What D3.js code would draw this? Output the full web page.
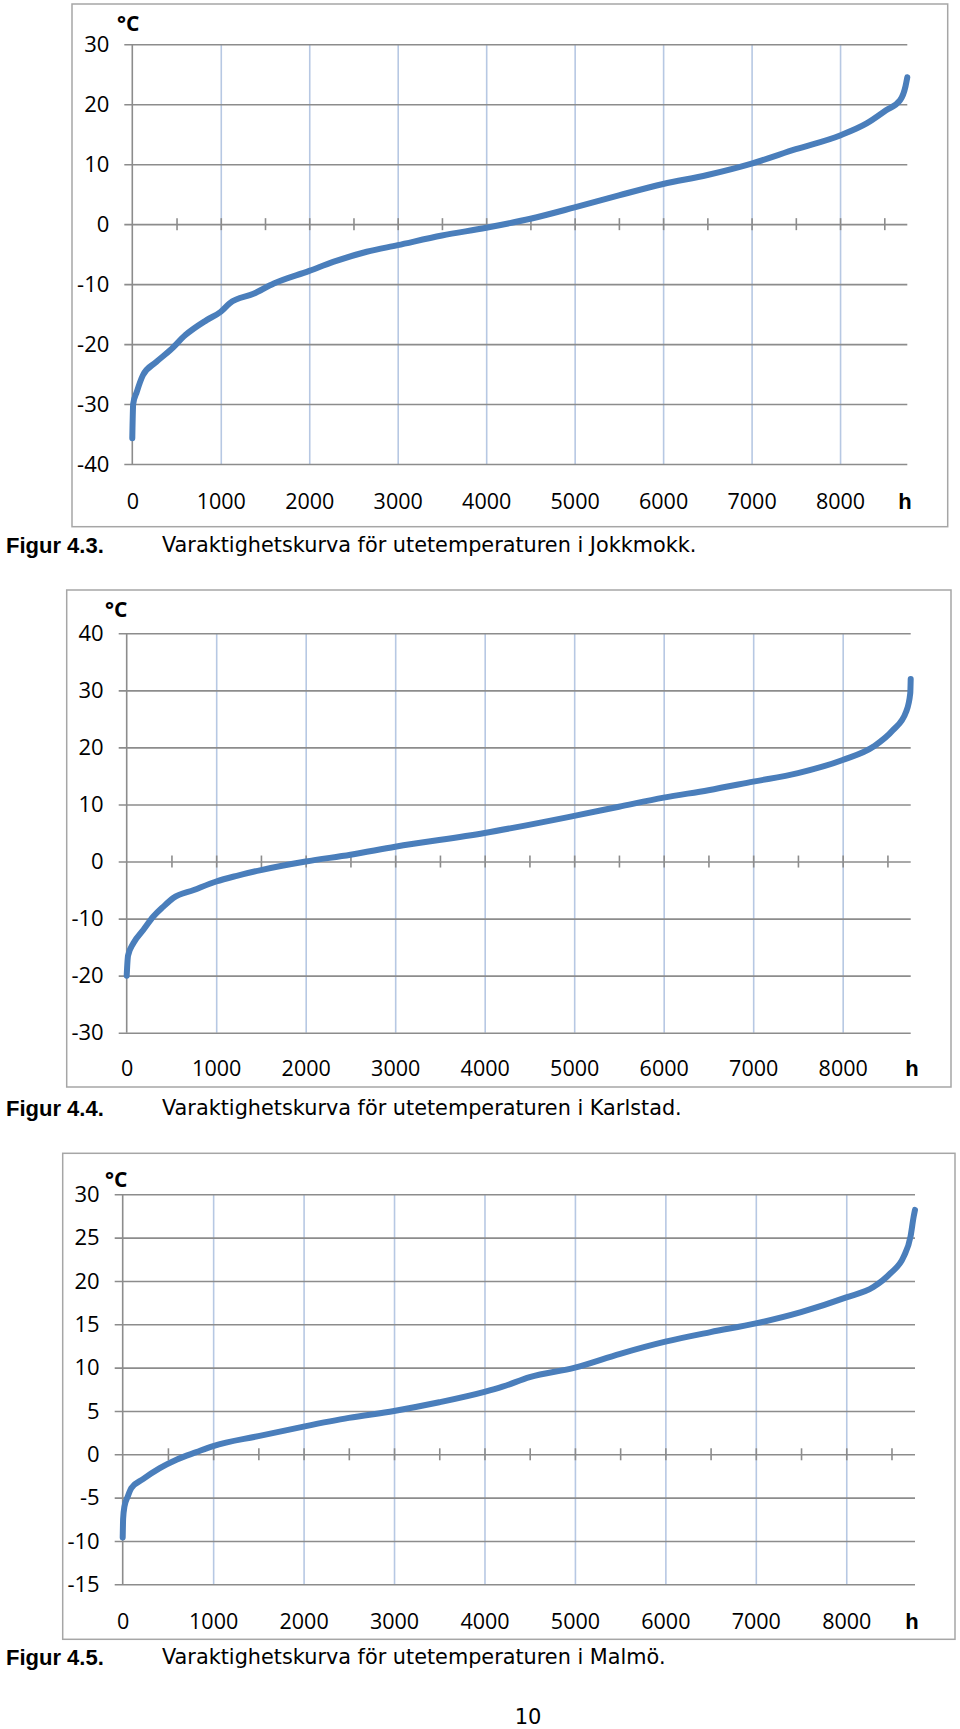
<!DOCTYPE html>
<html>
<head>
<meta charset="utf-8">
<script src="https://cdn.jsdelivr.net/npm/d3@7"></script>
<style>
  html, body { margin: 0; padding: 0; background: #fff; }
  svg { display: block; }
</style>
</head>
<body>
<svg id="page" width="960" height="1729"></svg>
<script>
// ---------------- DATA ----------------
const xTickLabels = [0, 1000, 2000, 3000, 4000, 5000, 6000, 7000, 8000];
const xGridHours = [1000, 2000, 3000, 4000, 5000, 6000, 7000, 8000];
const xMinorTicks = [500, 1000, 1500, 2000, 2500, 3000, 3500, 4000, 4500, 5000, 5500, 6000, 6500, 7000, 7500, 8000, 8500];

// Jokkmokk
const jokkmokkHours = [0, 10, 50, 120, 270, 430, 600, 840, 1000, 1100, 1370, 1600, 2000, 2270, 2650, 3000, 3500, 4000, 4500, 5000, 5500, 6000, 6500, 7000, 7500, 8000, 8300, 8520, 8680, 8740, 8760];
const jokkmokkTemp  = [-35.7, -30, -28, -25.2, -23, -21, -18.5, -16, -14.6, -13.2, -11.6, -9.9, -7.8, -6.3, -4.6, -3.5, -1.9, -0.6, 0.9, 2.8, 4.8, 6.7, 8.2, 10.1, 12.5, 14.8, 16.8, 19, 20.7, 23, 24.5];
const jokkmokkYTicks = [-40, -30, -20, -10, 0, 10, 20, 30];

// Karlstad
const karlstadHours = [0, 15, 75, 185, 300, 410, 520, 750, 1000, 1230, 1500, 2000, 2500, 3000, 4000, 5000, 5500, 6000, 6500, 7000, 7500, 8000, 8350, 8560, 8710, 8755, 8760];
const karlstadTemp  = [-20, -16.5, -14.3, -12, -9.6, -7.9, -6.4, -5.0, -3.5, -2.5, -1.5, 0, 1.2, 2.6, 5.0, 8.0, 9.6, 11.2, 12.5, 14.0, 15.5, 17.8, 20.2, 23.0, 26.3, 29.5, 32];
const karlstadYTicks = [-30, -20, -10, 0, 10, 20, 30, 40];

// Malmö
const malmoHours = [0, 5, 20, 55, 95, 220, 410, 600, 815, 1000, 1500, 2000, 2500, 3000, 3500, 4000, 4200, 4500, 5000, 5500, 6000, 6500, 7000, 7500, 8000, 8300, 8490, 8635, 8710, 8745, 8760];
const malmoTemp  = [-9.6, -7.4, -6, -4.9, -3.9, -2.9, -1.6, -0.6, 0.25, 0.95, 2.1, 3.2, 4.2, 5.0, 6.0, 7.2, 7.8, 8.9, 10.0, 11.6, 13.0, 14.1, 15.1, 16.4, 18.1, 19.3, 20.9, 22.8, 25.1, 27.4, 28.2];
const malmoYTicks = [-15, -10, -5, 0, 5, 10, 15, 20, 25, 30];

const unitLabel = "°C";
const xUnitLabel = "h";
const figureLabels = ["Figur 4.3.", "Figur 4.4.", "Figur 4.5."];
const captions = [
  "Varaktighetskurva för utetemperaturen i Jokkmokk.",
  "Varaktighetskurva för utetemperaturen i Karlstad.",
  "Varaktighetskurva för utetemperaturen i Malmö."
];
const pageNumber = "10";

// ---------------- LAYOUT ----------------
const charts = [
  { hours: jokkmokkHours, temp: jokkmokkTemp, yTicks: jokkmokkYTicks,
    frame: {x: 72, y: 4, w: 875.7, h: 522.7},
    plot: {l: 132.3, r: 907.3, t: 44.3, b: 464},
    unitPos: {x: 117, y: 24}, xLabY: 501.5, hX: 905, capY: 545 },
  { hours: karlstadHours, temp: karlstadTemp, yTicks: karlstadYTicks,
    frame: {x: 66.7, y: 590, w: 884.3, h: 497},
    plot: {l: 126.7, r: 910.7, t: 633.3, b: 1032.7},
    unitPos: {x: 105, y: 610}, xLabY: 1068, hX: 912, capY: 1108 },
  { hours: malmoHours, temp: malmoTemp, yTicks: malmoYTicks,
    frame: {x: 62.7, y: 1153.3, w: 892.3, h: 486},
    plot: {l: 122.7, r: 915, t: 1194.3, b: 1584.3},
    unitPos: {x: 105, y: 1180}, xLabY: 1621.5, hX: 912, capY: 1657 }
];

const svg = d3.select("#page");
const gridGray = "#8c8c8c";
const gridBlue = "#b7c8e3";
const lineBlue = "#4a7ebb";
const tickFont = "'Open Sans', sans-serif";
const capFont = "'DejaVu Sans', sans-serif";
const plainFormat = d => String(d);

charts.forEach((c, i) => {
  const g = svg.append("g");
  // frame
  g.append("rect")
    .attr("x", c.frame.x).attr("y", c.frame.y)
    .attr("width", c.frame.w).attr("height", c.frame.h)
    .attr("fill", "#fff").attr("stroke", "#a6a6a6").attr("stroke-width", 1.5);

  const x = d3.scaleLinear().domain([0, 8760]).range([c.plot.l, c.plot.r]);
  const y = d3.scaleLinear().domain(d3.extent(c.yTicks)).range([c.plot.b, c.plot.t]);
  const plotW = c.plot.r - c.plot.l;
  const plotH = c.plot.b - c.plot.t;

  // vertical gridlines
  const vg = g.append("g").attr("transform", `translate(0,${c.plot.b})`)
    .call(d3.axisBottom(x).tickValues(xGridHours).tickSize(-plotH).tickFormat(""));
  vg.select(".domain").remove();
  vg.selectAll("line").attr("stroke", gridBlue).attr("stroke-width", 1.6);

  // horizontal gridlines + y labels
  const hg = g.append("g").attr("transform", `translate(${c.plot.l - 8},0)`)
    .call(d3.axisLeft(y).tickValues(c.yTicks).tickSize(-(plotW + 8)).tickPadding(15).tickFormat(plainFormat));
  hg.select(".domain").remove();
  hg.selectAll("line").attr("stroke", gridGray).attr("stroke-width", 1.6);
  hg.selectAll("text").attr("font-family", tickFont).attr("font-size", 22).attr("fill", "#000");

  // left axis line
  g.append("line").attr("x1", c.plot.l).attr("x2", c.plot.l)
    .attr("y1", c.plot.t).attr("y2", c.plot.b)
    .attr("stroke", gridGray).attr("stroke-width", 1.6);

  // minor ticks on zero line
  const zeroDown = g.append("g").attr("transform", `translate(0,${y(0)})`)
    .call(d3.axisBottom(x).tickValues(xMinorTicks).tickSize(6).tickFormat(""));
  zeroDown.select(".domain").remove();
  const zeroUp = g.append("g").attr("transform", `translate(0,${y(0)})`)
    .call(d3.axisTop(x).tickValues(xMinorTicks).tickSize(6).tickFormat(""));
  zeroUp.select(".domain").remove();
  [zeroDown, zeroUp].forEach(a => a.selectAll("line").attr("stroke", gridGray).attr("stroke-width", 1.6));

  // x tick labels
  const xl = g.append("g").attr("transform", `translate(0,${c.xLabY})`)
    .call(d3.axisBottom(x).tickValues(xTickLabels).tickSize(0).tickPadding(0).tickFormat(plainFormat));
  xl.select(".domain").remove();
  xl.selectAll("text").attr("dy", "0.35em").attr("y", 0)
    .attr("font-family", tickFont).attr("font-size", 21.5).attr("fill", "#000");

  // x unit
  g.append("text").attr("x", c.hX).attr("y", c.xLabY).attr("dy", "0.35em")
    .attr("text-anchor", "middle").attr("font-family", "'Liberation Sans', Arial, sans-serif")
    .attr("font-weight", "bold").attr("font-size", 22).text(xUnitLabel);

  // y unit
  g.append("text").attr("x", c.unitPos.x).attr("y", c.unitPos.y).attr("dy", "0.35em")
    .attr("font-family", tickFont).attr("font-weight", "bold").attr("font-size", 21)
    .text(unitLabel);

  // curve
  const pts = c.hours.map((h, k) => [h, c.temp[k]]);
  const line = d3.line().x(d => x(d[0])).y(d => y(d[1])).curve(d3.curveMonotoneX);
  g.append("path").datum(pts).attr("d", line)
    .attr("fill", "none").attr("stroke", lineBlue).attr("stroke-width", 6)
    .attr("stroke-linecap", "round").attr("stroke-linejoin", "round");

  // caption
  g.append("text").attr("x", 6).attr("y", c.capY).attr("dy", "0.35em")
    .attr("font-family", "'Liberation Sans', Arial, sans-serif").attr("font-weight", "bold").attr("font-size", 22)
    .text(figureLabels[i]);
  g.append("text").attr("x", 162).attr("y", c.capY).attr("dy", "0.35em")
    .attr("font-family", capFont).attr("font-size", 20.8)
    .text(captions[i]);
});

svg.append("text").attr("x", 528).attr("y", 1717).attr("dy", "0.35em")
  .attr("text-anchor", "middle").attr("font-family", capFont).attr("font-size", 21)
  .text(pageNumber);
</script>
</body>
</html>
